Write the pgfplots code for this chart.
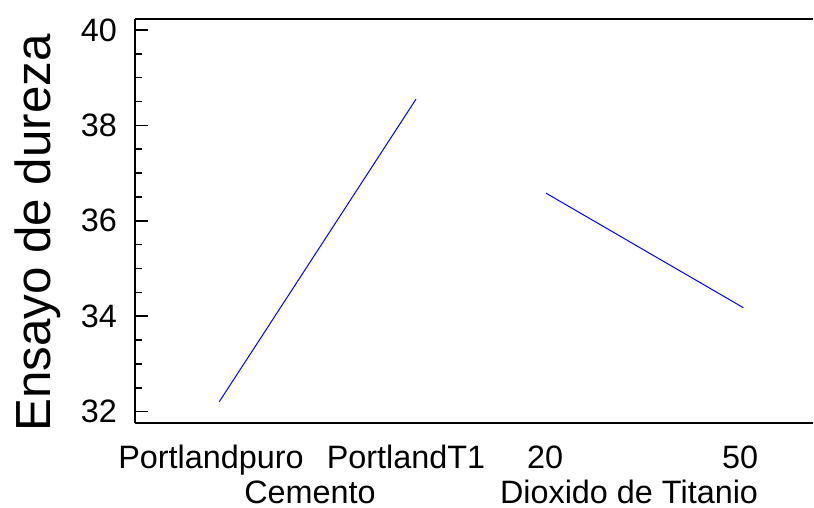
\documentclass[border=0pt]{standalone}
\usepackage{fontspec}
\setmainfont{Liberation Sans}
\usepackage{pgfplots}
\pgfplotsset{compat=1.18}
\begin{document}
\begin{tikzpicture}
\path[use as bounding box] (0,0) rectangle (814bp,508bp);
\begin{axis}[
  at={(135bp,85bp)}, anchor=south west,
  scale only axis, width=678bp, height=404bp,
  xmin=135, xmax=813, ymin=31.763, ymax=40.23,
  axis x line=box, axis y line=left,
  axis line style={-, line width=1.6bp, black},
  xtick={211,406,545,740},
  xticklabels={Portlandpuro,PortlandT1,20,50},
  x tick style={draw=none},
  ytick={32,34,36,38,40},
  minor y tick num=3,
  tick align=inside,
  y tick style={line width=1.6bp, black},
  major tick length=13bp, minor tick length=7bp,
  /pgf/number format/assume math mode=true,
  ticklabel style={font=\fontsize{32.5}{36}\selectfont},
  xticklabel style={anchor=base, yshift=-45bp},
  yticklabel style={anchor=east, inner sep=0pt, xshift=-18bp},
  clip=false,
]
\addplot[blue, line width=1bp] coordinates {(219.3,32.21) (416,38.55)};
\addplot[blue, line width=1bp] coordinates {(546,36.58) (743.3,34.18)};
\node[anchor=base, inner sep=0pt, yshift=-80bp, font=\fontsize{32.5}{36}\selectfont] at (axis cs:310,31.763) {Cemento};
\node[anchor=base, inner sep=0pt, yshift=-80bp, font=\fontsize{32.5}{36}\selectfont] at (axis cs:629,31.763) {Dioxido de Titanio};
\end{axis}
\node[rotate=90, anchor=base west, inner sep=0pt, font=\fontsize{49.5}{55}\selectfont] at (50bp,76bp) {Ensayo de dureza};
\end{tikzpicture}
\end{document}
